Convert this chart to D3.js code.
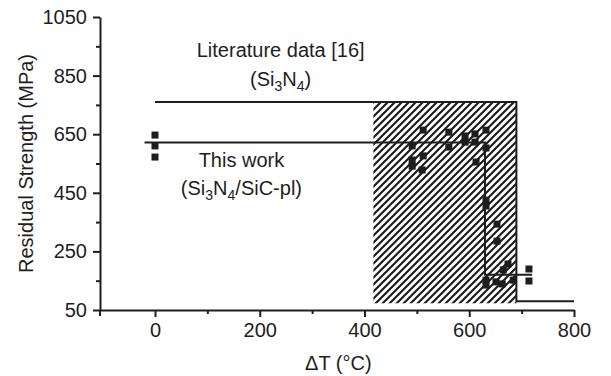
<!DOCTYPE html>
<html>
<head>
<meta charset="utf-8">
<script src="https://cdn.jsdelivr.net/npm/d3@7"></script>
<style>
  html, body { margin: 0; padding: 0; background: #fff; }
  svg { display: block; }
  text { font-family: Arial, "Liberation Sans", Helvetica, sans-serif; fill: #1e1e1e; }
</style>
</head>
<body>
<svg id="chart" width="611" height="376"></svg>
<script>
// ---- data ----
const xMajorTicks = [0, 200, 400, 600, 800];
const xMinorTicks = [100, 300, 500, 700];
const yMajorTicks = [50, 250, 450, 650, 850, 1050];
const yMinorTicks = [150, 350, 550, 750, 950];

// measured points: This work (Si3N4/SiC-pl)
const pointsX = [0, 0, 0,
  512, 561, 561, 491, 512, 491, 491, 510,
  592, 592, 611, 611, 632, 632, 613,
  632, 632, 653, 653, 674, 665,
  632, 632, 651, 663, 684, 714, 714];
const pointsY = [647, 610, 572,
  664, 657, 606, 610, 576, 562, 541, 528,
  644, 623, 651, 623, 664, 603, 555,
  425, 405, 343, 285, 207, 187,
  152, 135, 146, 139, 152, 190, 149];

// fitted step line: This work
const workLineX = [-20, 630, 630, 720];
const workLineY = [622, 622, 170, 170];

// literature data [16] (Si3N4) step line
const litLineX = [0, 690, 690, 800];
const litLineY = [760, 760, 80, 80];

// hatched transition band of the literature data
const bandX = [417, 690];
const bandY = [73, 760];

// ---- chart ----
const svg = d3.select("#chart");
const ink = "#1e1e1e";

const x = d3.scaleLinear().domain([-105, 800]).range([100, 574]);
const y = d3.scaleLinear().domain([50, 1050]).range([310, 17]);

// hatch pattern
const defs = svg.append("defs");
const pat = defs.append("pattern")
  .attr("id", "hatch")
  .attr("patternUnits", "userSpaceOnUse")
  .attr("width", 7).attr("height", 7);
pat.append("path")
  .attr("d", "M-1,1 l2,-2 M0,7 l7,-7 M6,8 l2,-2")
  .attr("stroke", ink).attr("stroke-width", 2.2);

svg.append("rect")
  .attr("x", x(bandX[0])).attr("y", y(bandY[1]))
  .attr("width", x(bandX[1]) - x(bandX[0]))
  .attr("height", y(bandY[0]) - y(bandY[1]))
  .attr("fill", "url(#hatch)");

const line = d3.line().x(d => x(d[0])).y(d => y(d[1]));

svg.append("path")
  .attr("d", line(d3.zip(litLineX, litLineY)))
  .attr("fill", "none").attr("stroke", ink).attr("stroke-width", 2);

svg.append("path")
  .attr("d", line(d3.zip(workLineX, workLineY)))
  .attr("fill", "none").attr("stroke", ink).attr("stroke-width", 2);

const sz = 7;
svg.append("g").selectAll("rect")
  .data(d3.zip(pointsX, pointsY))
  .join("rect")
  .attr("x", d => x(d[0]) - sz / 2)
  .attr("y", d => y(d[1]) - sz / 2)
  .attr("width", sz).attr("height", sz)
  .attr("fill", ink);

// axes
const fmt = d3.format("d");
const xAxis = svg.append("g").attr("transform", `translate(0,${y(50)})`);
xAxis.call(d3.axisBottom(x).tickValues(xMajorTicks).tickFormat(fmt).tickSize(7).tickPadding(6).tickSizeOuter(0));
const xMinor = svg.append("g").attr("transform", `translate(0,${y(50)})`);
xMinor.call(d3.axisBottom(x).tickValues(xMinorTicks).tickSize(4).tickFormat("").tickSizeOuter(0));
xMinor.select(".domain").remove();

const yAxis = svg.append("g").attr("transform", `translate(${x(-105)},0)`);
yAxis.call(d3.axisLeft(y).tickValues(yMajorTicks).tickFormat(fmt).tickSize(7).tickPadding(6).tickSizeOuter(0));
const yMinor = svg.append("g").attr("transform", `translate(${x(-105)},0)`);
yMinor.call(d3.axisLeft(y).tickValues(yMinorTicks).tickSize(4).tickFormat("").tickSizeOuter(0));
yMinor.select(".domain").remove();

[xAxis, xMinor, yAxis, yMinor].forEach(g => {
  g.selectAll("path.domain").attr("stroke", ink).attr("stroke-width", 2);
  g.selectAll(".tick line").attr("stroke", ink).attr("stroke-width", 2);
  g.selectAll(".tick text").attr("font-size", 20).attr("fill", ink)
    .style("font-family", "Arial, 'Liberation Sans', sans-serif");
});
// small downward extension of y-axis (cross at origin)
svg.append("line")
  .attr("x1", x(-105)).attr("x2", x(-105))
  .attr("y1", y(50)).attr("y2", y(50) + 6)
  .attr("stroke", ink).attr("stroke-width", 2);

// axis titles
svg.append("text")
  .attr("x", x(350)).attr("y", 370)
  .attr("text-anchor", "middle").attr("font-size", 20)
  .text("\u0394T (\u00B0C)");

svg.append("text")
  .attr("transform", `translate(33,${(y(50) + y(1050)) / 2}) rotate(-90)`)
  .attr("text-anchor", "middle").attr("font-size", 20)
  .text("Residual Strength (MPa)");

// annotations
function chemLabel(cx, cy, parts) {
  const t = svg.append("text")
    .attr("x", cx).attr("y", cy)
    .attr("text-anchor", "middle").attr("font-size", 20);
  parts.forEach(p => {
    if (p.sub) {
      t.append("tspan").attr("dy", 5).attr("font-size", 14).text(p.t);
    } else {
      t.append("tspan").attr("dy", p.back ? -5 : 0).text(p.t);
    }
  });
  return t;
}

svg.append("text")
  .attr("x", x(240)).attr("y", 57)
  .attr("text-anchor", "middle").attr("font-size", 20)
  .text("Literature data [16]");

chemLabel(x(240), 86, [
  { t: "(Si" }, { t: "3", sub: true }, { t: "N", back: true }, { t: "4", sub: true }, { t: ")", back: true }
]);

svg.append("text")
  .attr("x", x(165)).attr("y", 167)
  .attr("text-anchor", "middle").attr("font-size", 20)
  .text("This work");

chemLabel(x(165), 195, [
  { t: "(Si" }, { t: "3", sub: true }, { t: "N", back: true }, { t: "4", sub: true }, { t: "/SiC-pl)", back: true }
]);
</script>
</body>
</html>
